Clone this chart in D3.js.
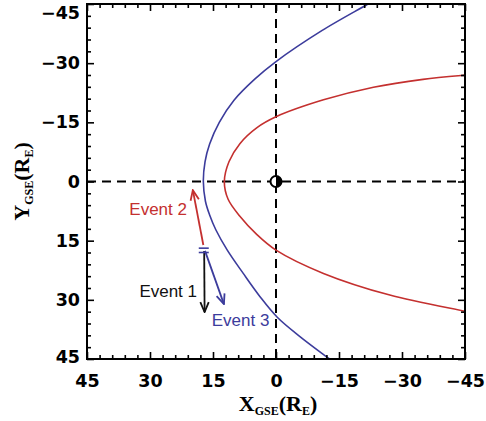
<!DOCTYPE html>
<html>
<head>
<meta charset="utf-8">
<script src="https://cdn.jsdelivr.net/npm/d3@7"></script>
<style>
  html, body { margin: 0; padding: 0; background: #fff; }
  svg { display: block; }
</style>
</head>
<body>
<svg id="chart" width="486" height="421"></svg>
<script>
// ---- data (X_GSE, Y_GSE in Earth radii) ----
const xTicks = [45, 30, 15, 0, -15, -30, -45];
const yTicks = [-45, -30, -15, 0, 15, 30, 45];
const minorTicks = d3.range(-45, 46, 3);

// bow shock (blue), top to bottom
const bowShock = [
  [-23.4, -46], [-21.9, -45], [-11.0, -38.3], [0, -30.4], [5.0, -26.0], [10.0, -20.6],
  [13.5, -15.0], [15.8, -9.5], [16.9, -5.0], [17.3, 0], [16.8, 5.0], [15.8, 8.5],
  [14.3, 12.3], [11.6, 17.4], [7.8, 23.3], [3.8, 29.2], [-0.3, 34.4],
  [-5.7, 39.3], [-12.5, 44.8], [-14.0, 46.0]
];
// magnetopause (red), top to bottom
const magnetopause = [
  [-46.5, -27.1], [-45.4, -27.0], [-35.0, -25.9], [-23.2, -23.9], [-11.3, -20.7], [0, -16.4],
  [4.6, -13.6], [8.6, -9.6], [11.2, -5.0], [12.3, 0], [11.4, 4.5], [8.6, 8.8],
  [4.6, 13.4], [0, 17.4], [-11.3, 23.3], [-27.1, 28.8], [-45.4, 33.0], [-46.5, 33.3]
];

// spacecraft tracks for the three events
const eventNames  = ["Event 2", "Event 1", "Event 3"];
const eventStart  = [[17.3, 16.1], [17.1, 17.6], [16.9, 17.6]];
const eventEnd    = [[19.8, 2.2], [17.0, 33.1], [12.4, 31.1]];
const eventLabelPos = [[21.2, 8.5], [18.8, 29.3], [15.3, 36.6]];
const eventColors = ["#c4302f", "#111111", "#3c3c9c"];
const eventAnchor = ["end", "end", "start"];

// start marker (double bar)
const startMarkX = 17.2;
const startMarkY = [16.9, 18.0];

// ---- layout ----
const W = 486, H = 421;
const mLeft = 87, mRight = 465, mTop = 4, mBottom = 359;

const svg = d3.select("#chart");
const x = d3.scaleLinear().domain([45, -45]).range([mLeft, mRight]);
const y = d3.scaleLinear().domain([-45, 45]).range([mTop, mBottom]);

const tickFont = "'DejaVu Sans', Verdana, sans-serif";
const labelFont = "'Liberation Sans', Arial, Helvetica, sans-serif";

const defs = svg.append("defs");
defs.append("clipPath").attr("id", "clip")
  .append("rect").attr("x", mLeft).attr("y", mTop)
  .attr("width", mRight - mLeft).attr("height", mBottom - mTop);

// arrow markers
eventColors.forEach((c, i) => {
  defs.append("marker")
    .attr("id", "arrow" + i)
    .attr("markerUnits", "userSpaceOnUse")
    .attr("viewBox", "0 0 12 12")
    .attr("refX", 11).attr("refY", 6)
    .attr("markerWidth", 12).attr("markerHeight", 12)
    .attr("orient", "auto")
    .append("path")
    .attr("d", "M1,1.8 L11,6 L1,10.2")
    .attr("fill", "none")
    .attr("stroke", c)
    .attr("stroke-width", 1.8)
    .attr("stroke-linejoin", "miter");
});

// dashed zero lines
const g = svg.append("g").attr("clip-path", "url(#clip)");
g.append("line")
  .attr("x1", x(0)).attr("x2", x(0)).attr("y1", y(-45)).attr("y2", y(45))
  .attr("stroke", "#000").attr("stroke-width", 2).attr("stroke-dasharray", "9,6");
g.append("line")
  .attr("x1", x(45)).attr("x2", x(-45)).attr("y1", y(0)).attr("y2", y(0))
  .attr("stroke", "#000").attr("stroke-width", 2).attr("stroke-dasharray", "9,6");

// boundaries
const line = d3.line().x(d => x(d[0])).y(d => y(d[1])).curve(d3.curveCatmullRom.alpha(0.5));
g.append("path").datum(bowShock).attr("d", line)
  .attr("fill", "none").attr("stroke", "#3c3c9c").attr("stroke-width", 1.6);
g.append("path").datum(magnetopause).attr("d", line)
  .attr("fill", "none").attr("stroke", "#c4302f").attr("stroke-width", 1.6);

// Earth
const ex = x(0), ey = y(0), er = 5.5;
svg.append("circle").attr("cx", ex).attr("cy", ey).attr("r", er)
  .attr("fill", "#fff").attr("stroke", "#000").attr("stroke-width", 2);
svg.append("path")
  .attr("d", `M${ex},${ey - er} A${er},${er} 0 0 1 ${ex},${ey + er} Z`)
  .attr("fill", "#000");

// event tracks
eventNames.forEach((name, i) => {
  svg.append("line")
    .attr("x1", x(eventStart[i][0])).attr("y1", y(eventStart[i][1]))
    .attr("x2", x(eventEnd[i][0])).attr("y2", y(eventEnd[i][1]))
    .attr("stroke", eventColors[i]).attr("stroke-width", 1.8)
    .attr("marker-end", `url(#arrow${i})`);
  svg.append("text")
    .attr("x", x(eventLabelPos[i][0])).attr("y", y(eventLabelPos[i][1]))
    .attr("text-anchor", eventAnchor[i])
    .attr("font-family", labelFont)
    .attr("font-size", 17)
    .attr("fill", eventColors[i])
    .text(name);
});

// start double bar
startMarkY.forEach(v => {
  svg.append("line")
    .attr("x1", x(startMarkX) - 5).attr("x2", x(startMarkX) + 5)
    .attr("y1", y(v)).attr("y2", y(v))
    .attr("stroke", "#3c3c9c").attr("stroke-width", 1.6);
});

// axes
function styleAxis(sel) {
  sel.select(".domain").remove();
  sel.selectAll(".tick line").attr("stroke", "#000").attr("stroke-width", 1.6);
  sel.selectAll("text")
    .attr("font-family", tickFont)
    .attr("font-weight", "bold")
    .attr("font-size", 17.5)
    .attr("fill", "#000");
}
const fmt = d => d3.format("d")(d);

// major
svg.append("g").attr("transform", `translate(0,${mBottom})`)
  .call(d3.axisBottom(x).tickValues(xTicks).tickFormat(fmt).tickSize(-7).tickPadding(16))
  .call(styleAxis);
svg.append("g").attr("transform", `translate(0,${mTop})`)
  .call(d3.axisTop(x).tickValues(xTicks).tickFormat("").tickSize(-7))
  .call(styleAxis);
svg.append("g").attr("transform", `translate(${mLeft},0)`)
  .call(d3.axisLeft(y).tickValues(yTicks).tickFormat(fmt).tickSize(-7).tickPadding(7))
  .call(styleAxis)
  .call(sel => sel.selectAll(".tick text")
    .filter(d => d === -45).attr("dy", "0.85em"))
  .call(sel => sel.selectAll(".tick text")
    .filter(d => d === 45).attr("dy", "0.2em"));
svg.append("g").attr("transform", `translate(${mRight},0)`)
  .call(d3.axisRight(y).tickValues(yTicks).tickFormat("").tickSize(-7))
  .call(styleAxis);
// minor
const minorX = minorTicks.filter(v => !xTicks.includes(v));
const minorY = minorTicks.filter(v => !yTicks.includes(v));
svg.append("g").attr("transform", `translate(0,${mBottom})`)
  .call(d3.axisBottom(x).tickValues(minorX).tickFormat("").tickSize(-4)).call(styleAxis);
svg.append("g").attr("transform", `translate(0,${mTop})`)
  .call(d3.axisTop(x).tickValues(minorX).tickFormat("").tickSize(-4)).call(styleAxis);
svg.append("g").attr("transform", `translate(${mLeft},0)`)
  .call(d3.axisLeft(y).tickValues(minorY).tickFormat("").tickSize(-4)).call(styleAxis);
svg.append("g").attr("transform", `translate(${mRight},0)`)
  .call(d3.axisRight(y).tickValues(minorY).tickFormat("").tickSize(-4)).call(styleAxis);

// frame
svg.append("rect").attr("x", mLeft).attr("y", mTop)
  .attr("width", mRight - mLeft).attr("height", mBottom - mTop)
  .attr("fill", "none").attr("stroke", "#000").attr("stroke-width", 2);

// axis titles
const titleFont = "'Liberation Serif', 'Times New Roman', serif";
const xt = svg.append("text")
  .attr("x", (mLeft + mRight) / 2 + 2).attr("y", 411)
  .attr("text-anchor", "middle")
  .attr("font-family", titleFont).attr("font-weight", "bold").attr("font-size", 22);
xt.append("tspan").text("X");
xt.append("tspan").attr("font-size", 12).attr("dy", 4).text("GSE");
xt.append("tspan").attr("dy", -4).text("(R");
xt.append("tspan").attr("font-size", 12).attr("dy", 4).text("E");
xt.append("tspan").attr("dy", -4).text(")");

const yt = svg.append("text")
  .attr("transform", `translate(29,${(mTop + mBottom) / 2}) rotate(-90)`)
  .attr("text-anchor", "middle")
  .attr("font-family", titleFont).attr("font-weight", "bold").attr("font-size", 22);
yt.append("tspan").text("Y");
yt.append("tspan").attr("font-size", 12).attr("dy", 4).text("GSE");
yt.append("tspan").attr("dy", -4).text("(R");
yt.append("tspan").attr("font-size", 12).attr("dy", 4).text("E");
yt.append("tspan").attr("dy", -4).text(")");
</script>
</body>
</html>
